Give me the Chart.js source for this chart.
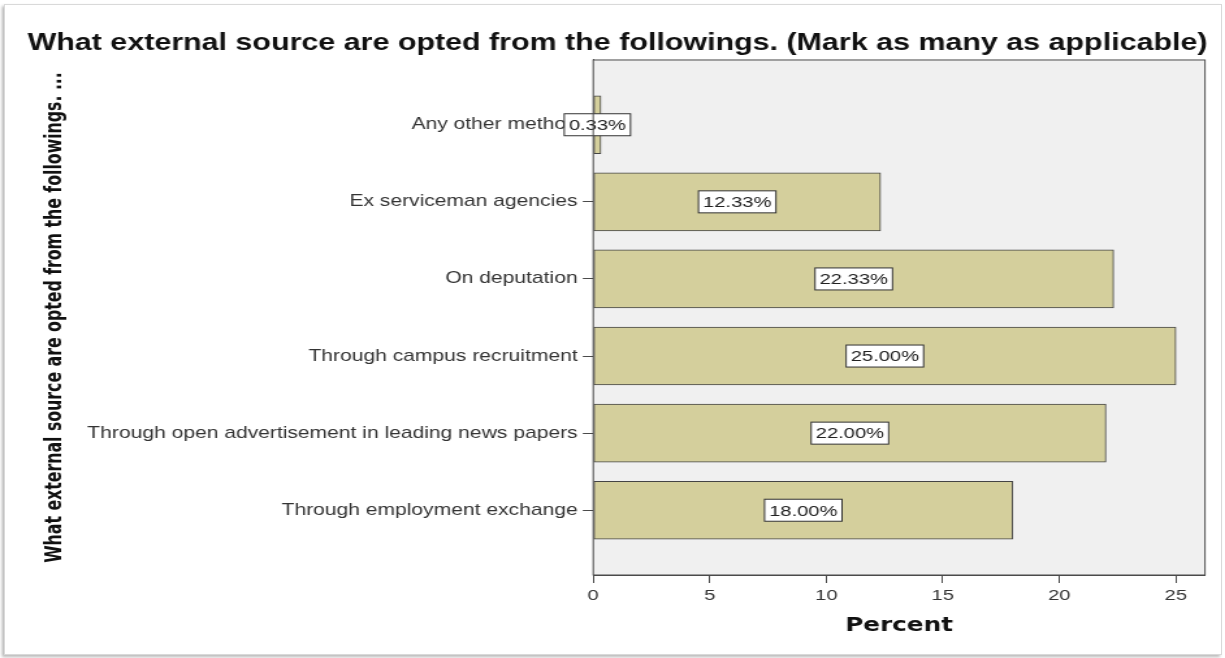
<!DOCTYPE html>
<html>
<head>
<meta charset="utf-8">
<title>External sources</title>
<script src="https://cdn.jsdelivr.net/npm/chart.js@4.4.1/dist/chart.umd.min.js"></script>
<style>
  html, body { margin: 0; padding: 0; background: #fff; }
  #frame {
    position: absolute; left: 4px; top: 4px; width: 1216px; height: 649px;
    border: 1px solid #d9d9d9;
    box-shadow: -2px 2px 3px rgba(0, 0, 0, 0.28);
  }
  #chart { position: absolute; left: 0; top: 0; }
</style>
</head>
<body>
<div id="frame"></div>
<canvas id="chart"></canvas>
<script>
// SPSS-style output is a little wide, so the chart is laid out narrower and stretched
const SX = 1.3;

const categories = [
  "Any other method",
  "Ex serviceman agencies",
  "On deputation",
  "Through campus recruitment",
  "Through open advertisement in leading news papers",
  "Through employment exchange",
];
const percents = [0.33, 12.33, 22.33, 25.0, 22.0, 18.0];

const titleText = "What external source are opted from the followings. (Mark as many as applicable)";
const yTitle = "What external source are opted from the followings. ...";
const xTitle = "Percent";

const sans = "'Liberation Sans', Arial, sans-serif";
const wideBold = "'DejaVu Sans', 'Liberation Sans', sans-serif";
const narrow = "'Liberation Sans Narrow', 'DejaVu Sans Condensed', 'Liberation Sans', sans-serif";

const canvas = document.getElementById("chart");
canvas.width = Math.round(1225 / SX);
canvas.height = 658;
canvas.style.width = "1225px";
canvas.style.height = "658px";

const padLeft = 10 / SX;

// grey plot background and the box around it
const plotFrame = {
  id: "plotFrame",
  beforeDatasetsDraw(chart) {
    const { ctx, chartArea: a } = chart;
    ctx.save();
    ctx.fillStyle = "#f0f0f0";
    ctx.fillRect(a.left, a.top, a.right - a.left, a.bottom - a.top);
    ctx.restore();
  },
  afterDraw(chart) {
    const { ctx, chartArea: a } = chart;
    ctx.save();
    ctx.strokeStyle = "#4a4a4a";
    ctx.lineWidth = 1;
    ctx.strokeRect(a.left, a.top, a.right - a.left, a.bottom - a.top);
    ctx.restore();
  },
};

// boxed percentage in the middle of every bar
const valueBoxes = {
  id: "valueBoxes",
  afterDatasetsDraw(chart) {
    const { ctx } = chart;
    const meta = chart.getDatasetMeta(0);
    ctx.save();
    ctx.font = "15.5px " + sans;
    ctx.textAlign = "center";
    ctx.textBaseline = "middle";
    meta.data.forEach((bar, i) => {
      const text = percents[i].toFixed(2) + "%";
      const cx = (bar.base + bar.x) / 2;
      const w = ctx.measureText(text).width + 7;
      const h = 22;
      ctx.fillStyle = "#fff";
      ctx.fillRect(cx - w / 2, bar.y - h / 2, w, h);
      ctx.strokeStyle = "#333";
      ctx.lineWidth = 1;
      ctx.strokeRect(cx - w / 2, bar.y - h / 2, w, h);
      ctx.fillStyle = "#222";
      ctx.fillText(text, cx, bar.y + 1);
    });
    ctx.restore();
  },
};

new Chart(canvas, {
  type: "bar",
  data: {
    datasets: [
      {
        data: percents.map((v, i) => ({ x: v, y: i })),
        backgroundColor: "#d4cf9c",
        borderColor: "#444",
        borderWidth: 1,
        borderSkipped: false,
        barThickness: 58,
      },
    ],
  },
  options: {
    indexAxis: "y",
    responsive: false,
    animation: false,
    devicePixelRatio: 1,
    layout: { padding: { left: padLeft, right: 0, top: 0, bottom: 0 } },
    plugins: {
      legend: { display: false },
      tooltip: { enabled: false },
      title: {
        display: true,
        text: titleText,
        color: "#111",
        font: { family: sans, size: 23.4, weight: "bold" },
        padding: { top: 29.5, bottom: 2.4 },
      },
    },
    scales: {
      x: {
        type: "linear",
        position: "bottom",
        min: 0,
        max: 26.25,
        ticks: { stepSize: 5, includeBounds: false, color: "#333", font: { family: sans, size: 15.5 }, padding: 3 },
        grid: { drawOnChartArea: false, drawTicks: true, tickLength: 8, color: "#4a4a4a" },
        border: { color: "#4a4a4a" },
        title: {
          display: true,
          text: xTitle,
          color: "#111",
          font: { family: wideBold, size: 19, weight: "bold" },
          padding: { top: 0, bottom: 20.5 },
        },
        afterFit(scale) {
          scale.height = 658 - 575;
        },
      },
      y: {
        type: "linear",
        reverse: true,
        offset: false,
        min: -0.84,
        max: 5.84,
        ticks: {
          stepSize: 1,
          includeBounds: false,
          autoSkip: false,
          color: "#333",
          font: { family: sans, size: 16.2 },
          padding: 4,
          callback: (v) => categories[v] ?? "",
        },
        grid: { offset: false, drawOnChartArea: false, drawTicks: true, tickLength: 8, color: "#4a4a4a" },
        border: { color: "#4a4a4a" },
        title: {
          display: true,
          text: yTitle,
          color: "#111",
          font: { family: narrow, size: 17.5, weight: "bold" },
          padding: { top: 24, bottom: 0 },
        },
        afterFit(scale) {
          scale.width = 593 / SX - padLeft;
        },
      },
      // empty strip on the right so the plot box stops short of the edge
      gutter: {
        type: "linear",
        position: "right",
        display: true,
        ticks: { display: false },
        grid: { display: false },
        border: { display: false },
        afterFit(scale) {
          scale.width = (1225 - 1205) / SX;
        },
      },
    },
  },
  plugins: [plotFrame, valueBoxes],
});
</script>
</body>
</html>
